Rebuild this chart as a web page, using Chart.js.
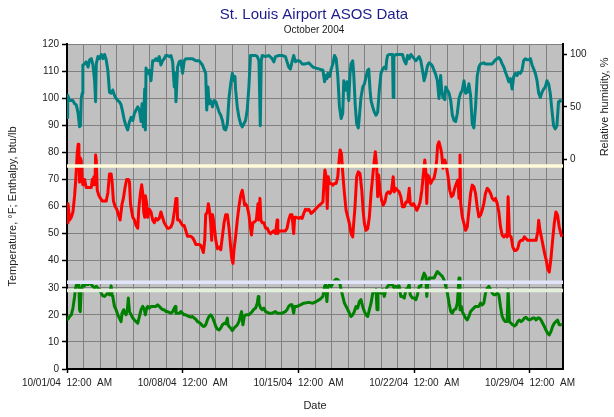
<!DOCTYPE html>
<html lang="en">
<head>
<meta charset="UTF-8">
<title>St. Louis Airport ASOS Data</title>
<script src="https://cdn.jsdelivr.net/npm/chart.js"></script>
<style>
    html, body { margin: 0; padding: 0; background: #fff; }
    .chart-box { position: relative; width: 614px; height: 417px; }
</style>
</head>
<body>
<div class="chart-box"><canvas id="asosChart"></canvas></div>
<script>
// x = days after 10/01/04 12:00 AM, y = reading
const rhData = [
    [0,40],[0.04,61],[0.16,56],[0.36,56],[0.46,53],[0.56,52],[0.66,45],[0.76,31],[0.82,32],[0.86,58],[0.92,63],[0.96,90],
    [1.06,91],[1.16,93],[1.27,88],[1.37,95],[1.47,96],[1.57,90],[1.67,75],[1.73,55],[1.77,91],[1.87,98],[1.97,96],
    [2.07,100],[2.17,96],[2.27,100],[2.37,95],[2.47,85],[2.57,64],[2.67,63],[2.77,66],[2.87,61],[2.97,58],
    [3.07,56],[3.17,55],[3.27,52],[3.37,45],[3.47,37],[3.57,32],[3.67,28],[3.78,36],[3.88,40],[3.98,37],
    [4.08,44],[4.18,47],[4.28,50],[4.38,47],[4.48,36],[4.54,53],[4.62,31],[4.7,67],[4.74,28],[4.78,87],[4.88,82],[4.98,85],
    [5.08,75],[5.18,94],[5.28,94],[5.38,96],[5.48,94],[5.58,98],[5.68,90],[5.78,94],[5.88,96],[5.98,99],
    [6.08,99],[6.18,98],[6.29,99],[6.39,93],[6.49,69],[6.55,82],[6.59,55],[6.69,88],[6.79,93],[6.89,94],[6.99,82],
    [7.09,94],[7.19,96],[7.39,96],[7.59,96],[7.79,94],[7.99,94],[8.19,90],[8.39,82],[8.45,47],[8.53,69],[8.59,53],[8.69,56],[8.8,50],[8.9,56],
    [9.0,55],[9.1,50],[9.2,45],[9.3,42],[9.4,37],[9.5,29],[9.6,28],[9.7,34],[9.8,59],[9.9,72],
    [10.0,82],[10.1,75],[10.16,79],[10.2,66],[10.3,50],[10.4,40],[10.5,34],[10.6,31],[10.7,34],[10.8,37],[10.9,47],
    [11.0,69],[11.1,99],[11.2,99],[11.41,99],[11.51,98],[11.61,94],[11.69,32],[11.75,94],[11.81,99],
    [12.01,98],[12.21,99],[12.41,96],[12.51,93],[12.61,98],[12.81,99],[13.01,99],[13.21,98],[13.41,88],[13.51,86],[13.61,93],[13.71,99],[13.82,93],[13.92,94],
    [14.02,94],[14.12,93],[14.22,91],[14.42,91],[14.62,92],[14.87,88],
    [15.07,87],[15.27,86],[15.48,85],[15.58,74],[15.64,80],[15.72,77],[15.78,82],[15.88,79],[15.98,86],
    [16.08,91],[16.18,99],[16.28,96],[16.38,79],[16.48,50],[16.58,39],[16.68,44],[16.74,75],[16.84,66],[16.94,74],
    [17.04,56],[17.12,82],[17.18,91],[17.28,94],[17.34,82],[17.44,50],[17.52,34],[17.62,30],[17.68,40],[17.78,59],[17.89,69],[17.99,72],
    [18.09,79],[18.19,85],[18.25,86],[18.33,66],[18.39,56],[18.49,50],[18.59,45],[18.69,42],[18.79,45],[18.89,66],[18.99,82],
    [19.09,86],[19.19,88],[19.29,86],[19.33,94],[19.39,99],[19.49,100],[19.69,100],[19.73,59],[19.77,98],[19.89,100],
    [20.29,100],[20.4,94],[20.5,91],[20.6,99],[20.7,96],[20.8,100],[20.9,98],
    [21.0,96],[21.1,94],[21.2,96],[21.3,98],[21.4,94],[21.5,85],[21.6,75],[21.7,81],[21.8,89],[21.9,92],
    [22.0,91],[22.1,89],[22.2,85],[22.3,81],[22.4,75],[22.5,58],[22.6,80],[22.66,66],[22.74,59],[22.85,57],[22.91,69],
    [23.01,66],[23.11,63],[23.21,56],[23.31,42],[23.41,37],[23.51,36],[23.61,44],[23.71,58],[23.81,63],[23.91,66],
    [24.01,75],[24.11,63],[24.21,64],[24.31,72],[24.41,61],[24.51,34],[24.61,30],[24.71,50],[24.81,79],[24.91,88],
    [25.01,91],[25.21,92],[25.31,91],[25.52,91],[25.72,91],[25.92,95],
    [26.12,97],[26.22,95],[26.32,91],[26.42,88],[26.52,83],[26.62,79],[26.72,74],[26.82,77],[26.92,67],
    [27.02,79],[27.12,82],[27.22,80],[27.32,83],[27.42,82],[27.52,85],[27.62,94],[27.72,96],[27.83,95],[27.93,95],
    [28.03,96],[28.13,90],[28.23,86],[28.33,82],[28.43,75],[28.53,63],[28.63,59],[28.73,64],[28.83,67],[28.93,69],
    [29.03,75],[29.13,72],[29.23,63],[29.33,47],[29.43,32],[29.53,29],[29.63,32],[29.73,55],[29.83,56],[29.93,55]
];

const tempData = [
    [0,54],[0.06,61],[0.16,55],[0.26,56],[0.36,58],[0.46,64],[0.52,69],[0.56,73],[0.62,80],[0.68,83],[0.72,81],[0.76,69],[0.8,78],[0.86,77],[0.92,70],[0.96,68],
    [1.06,70],[1.16,67],[1.27,67],[1.37,67],[1.47,67],[1.53,70],[1.57,68],[1.63,71],[1.69,68],[1.73,79],[1.77,77],[1.83,66],[1.93,64],
    [2.03,63],[2.13,62],[2.27,62],[2.37,62],[2.47,65],[2.57,72],[2.67,72],[2.73,69],[2.81,62],[2.91,60],
    [3.01,59],[3.11,57],[3.21,55],[3.27,58],[3.33,61],[3.41,63],[3.51,67],[3.61,70],[3.71,70],[3.78,69],[3.84,61],[3.92,58],[3.98,56],
    [4.08,55],[4.18,53],[4.28,52],[4.34,59],[4.44,65],[4.52,68],[4.58,65],[4.64,58],[4.7,56],[4.74,64],[4.82,61],[4.88,56],[4.98,59],
    [5.08,58],[5.18,55],[5.28,54],[5.38,55.6],[5.48,55],[5.58,55.6],[5.68,58],[5.78,56],[5.88,54],[5.98,53],
    [6.08,52],[6.18,52],[6.29,52.5],[6.39,54],[6.49,58],[6.59,63],[6.65,63],[6.69,55],[6.79,55],[6.89,54],[6.99,53],
    [7.09,53],[7.19,51],[7.29,49],[7.39,49],[7.49,49],[7.59,48.5],[7.69,47.5],[7.79,46],[7.89,46],[7.99,46],
    [8.09,45.7],[8.19,44],[8.25,43],[8.33,47.5],[8.39,57],[8.49,58],[8.55,61],[8.63,58],[8.69,54],[8.75,47.5],[8.8,57],[8.86,55],[8.94,51],
    [9.0,47.5],[9.1,44.4],[9.2,45],[9.3,44],[9.4,49],[9.5,54],[9.6,57],[9.7,57],[9.8,52],[9.9,45],[9.96,41],
    [10.04,39],[10.1,44],[10.2,49],[10.3,55],[10.4,60],[10.5,64],[10.6,66],[10.66,64],[10.74,60.5],[10.8,61],[10.9,60],
    [11.0,57],[11.1,52],[11.16,49.5],[11.24,54],[11.34,54.3],[11.45,55],[11.55,61],[11.61,55],[11.67,63],[11.73,55],[11.81,54],[11.91,54],
    [12.01,52],[12.11,52],[12.21,50.6],[12.31,50],[12.41,50.6],[12.51,51],[12.61,50],[12.71,55],[12.75,50],[12.81,51],
    [13.01,51],[13.21,51],[13.31,52],[13.41,55],[13.51,57],[13.61,57],[13.71,50],[13.77,56],[13.87,56],
    [14.02,55.6],[14.12,56],[14.22,55.6],[14.32,57.4],[14.42,59],[14.52,58.6],[14.62,59],[14.77,57.4],[14.87,58],[14.97,58.6],
    [15.07,59.3],[15.17,59.9],[15.27,60.5],[15.38,61.1],[15.48,61.7],[15.54,68.5],[15.6,73.5],[15.68,71],[15.74,59.3],[15.8,71],[15.88,68.5],[15.98,68.5],
    [16.08,67.9],[16.18,68.5],[16.28,68.5],[16.38,71],[16.44,75.9],[16.52,80.9],[16.6,79.6],[16.68,72.2],[16.78,64.8],[16.88,58.6],[16.98,56.2],
    [17.08,53.7],[17.18,50],[17.28,48.8],[17.34,53.7],[17.42,59.9],[17.52,71],[17.62,72.8],[17.72,72.2],[17.83,66],[17.91,58.6],[17.99,53.7],
    [18.09,51.2],[18.19,51.9],[18.29,56.2],[18.39,64.8],[18.49,71],[18.59,77.2],[18.65,80.2],[18.73,74.7],[18.79,63.6],[18.85,71.6],[18.93,66],
    [19.03,62.3],[19.13,60.5],[19.23,61.7],[19.33,64.8],[19.43,65.4],[19.53,64.8],[19.63,66],[19.73,71],[19.79,65.4],[19.89,66.7],[19.99,66],
    [20.09,65.4],[20.19,63.6],[20.29,59.9],[20.4,59.9],[20.5,61.7],[20.6,61.7],[20.7,66.7],[20.76,61.1],[20.86,60.5],[20.96,61.1],
    [21.06,59.9],[21.16,58.6],[21.26,59.9],[21.36,61.7],[21.46,66],[21.56,72.2],[21.64,77.2],[21.72,71.6],[21.76,61.1],[21.82,71.6],[21.9,71],
    [22.0,68.5],[22.1,69.8],[22.2,70.4],[22.3,73.5],[22.36,77.2],[22.42,82.7],[22.5,83.9],[22.6,81.5],[22.66,79.6],[22.74,74.1],[22.85,77.2],[22.95,74.7],
    [23.05,71],[23.15,66],[23.25,63.6],[23.35,64.2],[23.45,66.7],[23.55,68.5],[23.65,69.8],[23.71,63],[23.77,79],[23.81,61.1],[23.91,56.2],
    [24.01,53.7],[24.11,51.2],[24.21,52.5],[24.31,58.6],[24.41,64.8],[24.51,67.9],[24.61,67.3],[24.71,64.8],[24.81,59.9],[24.91,56.2],
    [25.01,56.8],[25.11,58.6],[25.21,61.1],[25.31,64.8],[25.42,66.7],[25.52,66],[25.62,64.8],[25.72,63],[25.82,62.3],[25.92,63],
    [26.02,61.1],[26.12,58],[26.22,52.5],[26.32,49.4],[26.42,48.8],[26.52,49.4],[26.62,48.8],[26.68,63.6],[26.76,49.4],[26.86,48.8],[26.96,45.1],
    [27.06,43.8],[27.16,43.8],[27.26,44.4],[27.36,46.9],[27.46,47.5],[27.56,47.5],[27.66,48.8],[27.76,48.1],[27.87,47.5],
    [28.37,47.5],[28.47,50.6],[28.53,54.9],[28.61,51.2],[28.69,48.8],[28.79,45.7],[28.89,42.6],[28.99,40.1],
    [29.07,37],[29.17,35.8],[29.27,40.7],[29.37,47.5],[29.47,53.7],[29.57,58],[29.67,56.8],[29.77,52.5],[29.87,50],[29.93,48.8]
];

const enthalpyData = [
    [0,18.8],[0.06,18.4],[0.16,19.4],[0.26,20],[0.36,22.5],[0.46,26.8],[0.52,29.9],[0.6,31.7],[0.66,31.1],[0.72,31.1],[0.76,21.9],[0.8,21.2],[0.86,29.3],[0.96,31.1],
    [1.06,30.7],[1.16,31.5],[1.27,31.1],[1.37,31.7],[1.47,31.1],[1.57,30.5],[1.67,29.9],[1.77,30.5],[1.87,29.9],[1.97,29.3],
    [2.07,28],[2.17,27],[2.27,26.8],[2.37,27.4],[2.47,28],[2.57,27.4],[2.63,29.3],[2.67,30.7],[2.73,27],[2.77,26.8],[2.87,23.1],[2.97,21.9],
    [3.07,20],[3.17,18.8],[3.27,17.5],[3.33,20.6],[3.43,21.9],[3.51,20.6],[3.57,20],[3.65,21.9],[3.71,26.2],[3.78,21.2],[3.88,20],[3.98,18.8],
    [4.08,18.1],[4.18,17.5],[4.28,16.9],[4.38,19.4],[4.48,21.9],[4.58,23.1],[4.68,21.9],[4.74,20],[4.82,22.5],[4.88,23.1],[4.98,22.5],
    [5.08,23.1],[5.18,23.1],[5.28,23.1],[5.38,23.1],[5.48,23.7],[5.58,23.1],[5.68,22.5],[5.78,21.9],[5.88,21.9],[5.98,21.2],
    [6.08,21.2],[6.18,20.9],[6.29,20.6],[6.39,21.2],[6.49,22.5],[6.55,23.1],[6.59,20.6],[6.69,20.6],[6.79,20.6],[6.89,21.2],[6.99,20.6],
    [7.09,20],[7.19,20],[7.29,19.6],[7.39,19.4],[7.49,19.1],[7.59,19.4],[7.69,18.8],[7.79,18.4],[7.89,17.5],[7.99,17.2],
    [8.09,16.7],[8.19,15.9],[8.29,15.7],[8.39,16.3],[8.49,18.1],[8.59,19.4],[8.69,20],[8.8,19.1],[8.9,17.5],
    [9.0,15.7],[9.1,14.7],[9.2,14.4],[9.3,15.1],[9.4,16.3],[9.5,16.9],[9.6,16.7],[9.7,18.8],[9.74,16.3],[9.8,15.7],[9.9,15.1],
    [10.0,14.2],[10.1,15.1],[10.2,15.7],[10.3,16.3],[10.4,17.5],[10.5,20],[10.56,21.2],[10.64,16.3],[10.72,19.4],[10.8,20],[10.9,20],
    [11.0,20],[11.1,20.6],[11.2,21.2],[11.31,22.1],[11.41,22.5],[11.51,24.3],[11.57,26.8],[11.61,24.3],[11.71,22.5],[11.81,21.9],[11.91,22.5],
    [12.01,21.2],[12.11,20.9],[12.21,20.6],[12.41,20.6],[12.61,21.2],[12.71,20.6],[12.81,20.6],
    [13.01,20.6],[13.21,21.2],[13.31,21.9],[13.41,23.1],[13.51,23.7],[13.61,23.7],[13.71,20.6],[13.77,23.1],[13.92,23.1],
    [14.12,23.7],[14.32,24.3],[14.62,24.6],[14.87,24.3],
    [15.07,24.9],[15.27,25.6],[15.38,26.2],[15.48,26.8],[15.58,30.5],[15.64,31.1],[15.72,24.9],[15.78,30.5],[15.88,31.1],[15.98,30.5],
    [16.08,31.7],[16.18,32.7],[16.28,33.2],[16.38,33],[16.48,32.3],[16.58,29.3],[16.68,26.8],[16.78,24.3],[16.88,23.1],[16.98,21.9],
    [17.08,20.6],[17.18,19.4],[17.28,20],[17.38,21.2],[17.48,23.1],[17.58,22.5],[17.68,24.9],[17.78,25.6],[17.88,23.1],[17.99,21.2],
    [18.09,20],[18.19,19.4],[18.29,21.9],[18.39,24.3],[18.49,28],[18.59,28.6],[18.69,29.3],[18.75,21.9],[18.81,28],[18.89,28.6],[18.99,28],
    [19.09,29.3],[19.19,26.8],[19.29,29.3],[19.39,30.5],[19.49,31.1],[19.69,31.1],[19.79,29.9],[19.89,30.5],[19.99,29.9],
    [20.09,30.7],[20.19,26.8],[20.29,26.8],[20.4,26.2],[20.5,29.3],[20.6,29.9],[20.7,31.1],[20.76,27.4],[20.82,26.8],[20.9,26.2],
    [21.0,26.2],[21.1,25.6],[21.2,27.4],[21.3,30.5],[21.4,30.5],[21.5,33.6],[21.6,35.4],[21.7,34.2],[21.76,26.8],[21.82,31.1],[21.9,33.6],
    [22.0,33.6],[22.2,33.6],[22.3,34.8],[22.4,36],[22.5,35.4],[22.6,34.8],[22.7,34.2],[22.8,33],[22.91,30.5],
    [23.01,28],[23.11,24.3],[23.21,21.2],[23.31,20.6],[23.41,21.9],[23.51,22.1],[23.61,24.3],[23.71,33.6],[23.77,21.9],[23.85,23.1],[23.91,21.2],
    [24.01,20],[24.11,18.8],[24.21,18.1],[24.31,19.4],[24.41,21.2],[24.51,21.9],[24.71,23.1],[24.91,23.1],
    [25.01,24.3],[25.11,23.7],[25.21,24.3],[25.31,28],[25.42,29.9],[25.52,30.5],[25.62,29.3],[25.72,28],[25.82,27.4],[25.92,27.4],
    [26.02,28],[26.12,27.4],[26.22,23.1],[26.32,19.4],[26.42,18.1],[26.52,17.5],[26.62,17.5],[26.68,29.3],[26.76,17.5],[26.86,16.9],[26.96,16.3],
    [27.06,15.9],[27.16,16.3],[27.26,17.5],[27.36,18.1],[27.46,17.5],[27.56,17.9],[27.66,18.8],[27.76,19.1],[27.87,18.4],[27.97,18.1],
    [28.07,18.4],[28.17,18.8],[28.27,18.8],[28.37,18.1],[28.47,18.8],[28.57,18.8],[28.67,18.1],[28.77,16.9],[28.87,15.7],[28.97,14.4],
    [29.07,13.2],[29.17,12.6],[29.27,13.8],[29.37,15.7],[29.47,16.9],[29.57,17.5],[29.67,18.1],[29.77,16.3],[29.87,16.3],[29.93,16.3]
];

// horizontal reference levels on the left axis
const refLevels = [75, 32, 29];

const dateTicks = [0, 7, 14, 21, 28];
const dateLabels = ['10/01/04  12:00  AM', '10/08/04  12:00  AM', '10/15/04  12:00  AM', '10/22/04  12:00  AM', '10/29/04  12:00  AM'];
const rhTicks = [0, 50, 100];

const FONT = "'Liberation Sans', Arial, sans-serif";
const refColors = ['#fffbd8', '#dfe4fa', '#e2efdb'];

const toPoints = arr => arr.map(p => ({ x: p[0], y: p[1] }));

const seriesLine = (data, color, axis) => ({
    data: toPoints(data),
    yAxisID: axis,
    borderColor: color,
    borderWidth: 3,
    borderJoinStyle: 'round',
    pointRadius: 0,
    tension: 0,
    order: 1
});

const datasets = [
    seriesLine(rhData, '#008080', 'rh'),
    seriesLine(tempData, '#ff0000', 'y'),
    seriesLine(enthalpyData, '#008000', 'y')
];
refLevels.forEach((v, i) => {
    datasets.push({
        data: [{ x: 0, y: v }, { x: 30, y: v }],
        yAxisID: 'y',
        borderColor: refColors[i],
        borderWidth: 3.5,
        pointRadius: 0,
        order: 0
    });
});

// plot background, titles and the humidity axis caption
const framePlugin = {
    id: 'frame',
    beforeDraw(chart) {
        const { ctx, chartArea: a } = chart;
        ctx.save();
        ctx.fillStyle = '#ffffff';
        ctx.fillRect(0, 0, chart.width, chart.height);
        ctx.fillStyle = '#c0c0c0';
        ctx.fillRect(a.left, a.top, a.right - a.left, a.bottom - a.top);
        ctx.restore();
    },
    afterDraw(chart) {
        const { ctx } = chart;
        const rh = chart.scales.rh;
        ctx.save();
        ctx.textAlign = 'center';
        ctx.textBaseline = 'middle';
        ctx.fillStyle = '#1c1c8c';
        ctx.font = '15px ' + FONT;
        ctx.fillText('St. Louis Airport ASOS Data', 314, 15);
        ctx.fillStyle = '#222';
        ctx.font = '10px ' + FONT;
        ctx.fillText('October 2004', 314, 30);

        const midY = (rh.getPixelForValue(0) + rh.getPixelForValue(100)) / 2;
        ctx.translate(605, midY);
        ctx.rotate(-Math.PI / 2);
        ctx.font = '11px ' + FONT;
        ctx.fillText('Relative humidity, %', 0, 0);
        ctx.restore();
    }
};

new Chart(document.getElementById('asosChart'), {
    type: 'line',
    data: { datasets },
    plugins: [framePlugin],
    options: {
        responsive: true,
        maintainAspectRatio: false,
        animation: false,
        devicePixelRatio: 1,
        layout: { padding: { top: 44, left: 0, right: 0, bottom: 0 } },
        plugins: { legend: { display: false }, tooltip: { enabled: false } },
        scales: {
            x: {
                type: 'linear',
                min: 0,
                max: 30,
                afterFit: s => { s.height = 48; },
                ticks: {
                    stepSize: 1,
                    autoSkip: false,
                    maxRotation: 0,
                    padding: 4,
                    color: '#222',
                    font: { family: FONT, size: 10 },
                    callback: v => {
                        const i = dateTicks.indexOf(v);
                        return i >= 0 ? dateLabels[i] : '';
                    }
                },
                grid: {
                    color: '#808080',
                    lineWidth: 1,
                    tickLength: 4,
                    tickWidth: 1.5,
                    tickColor: ctx => (ctx.tick && dateTicks.includes(ctx.tick.value)) ? '#000' : 'rgba(0,0,0,0)'
                },
                border: { color: '#000', width: 2 },
                title: { display: true, text: 'Date', color: '#222', font: { family: FONT, size: 11 }, padding: 4 }
            },
            y: {
                position: 'left',
                min: 0,
                max: 120,
                afterFit: s => { s.width = 67; },
                ticks: { stepSize: 10, padding: 3, color: '#222', font: { family: FONT, size: 10 } },
                grid: { color: '#808080', lineWidth: 1, tickLength: 5, tickColor: '#000', tickWidth: 1.5 },
                border: { color: '#000', width: 2 },
                title: { display: true, text: 'Temperature, °F; Enthalpy, btu/lb', color: '#222', font: { family: FONT, size: 11 }, padding: 6 }
            },
            rh: {
                position: 'right',
                min: -200,
                max: 110,
                afterFit: s => { s.width = 51; },
                afterBuildTicks: s => { s.ticks = rhTicks.map(v => ({ value: v })); },
                ticks: { padding: 3, color: '#222', font: { family: FONT, size: 10 } },
                grid: { drawOnChartArea: false, tickLength: 4, tickColor: '#000', tickWidth: 1.5 },
                border: { color: '#000', width: 2 }
            }
        }
    }
});
</script>
</body>
</html>
